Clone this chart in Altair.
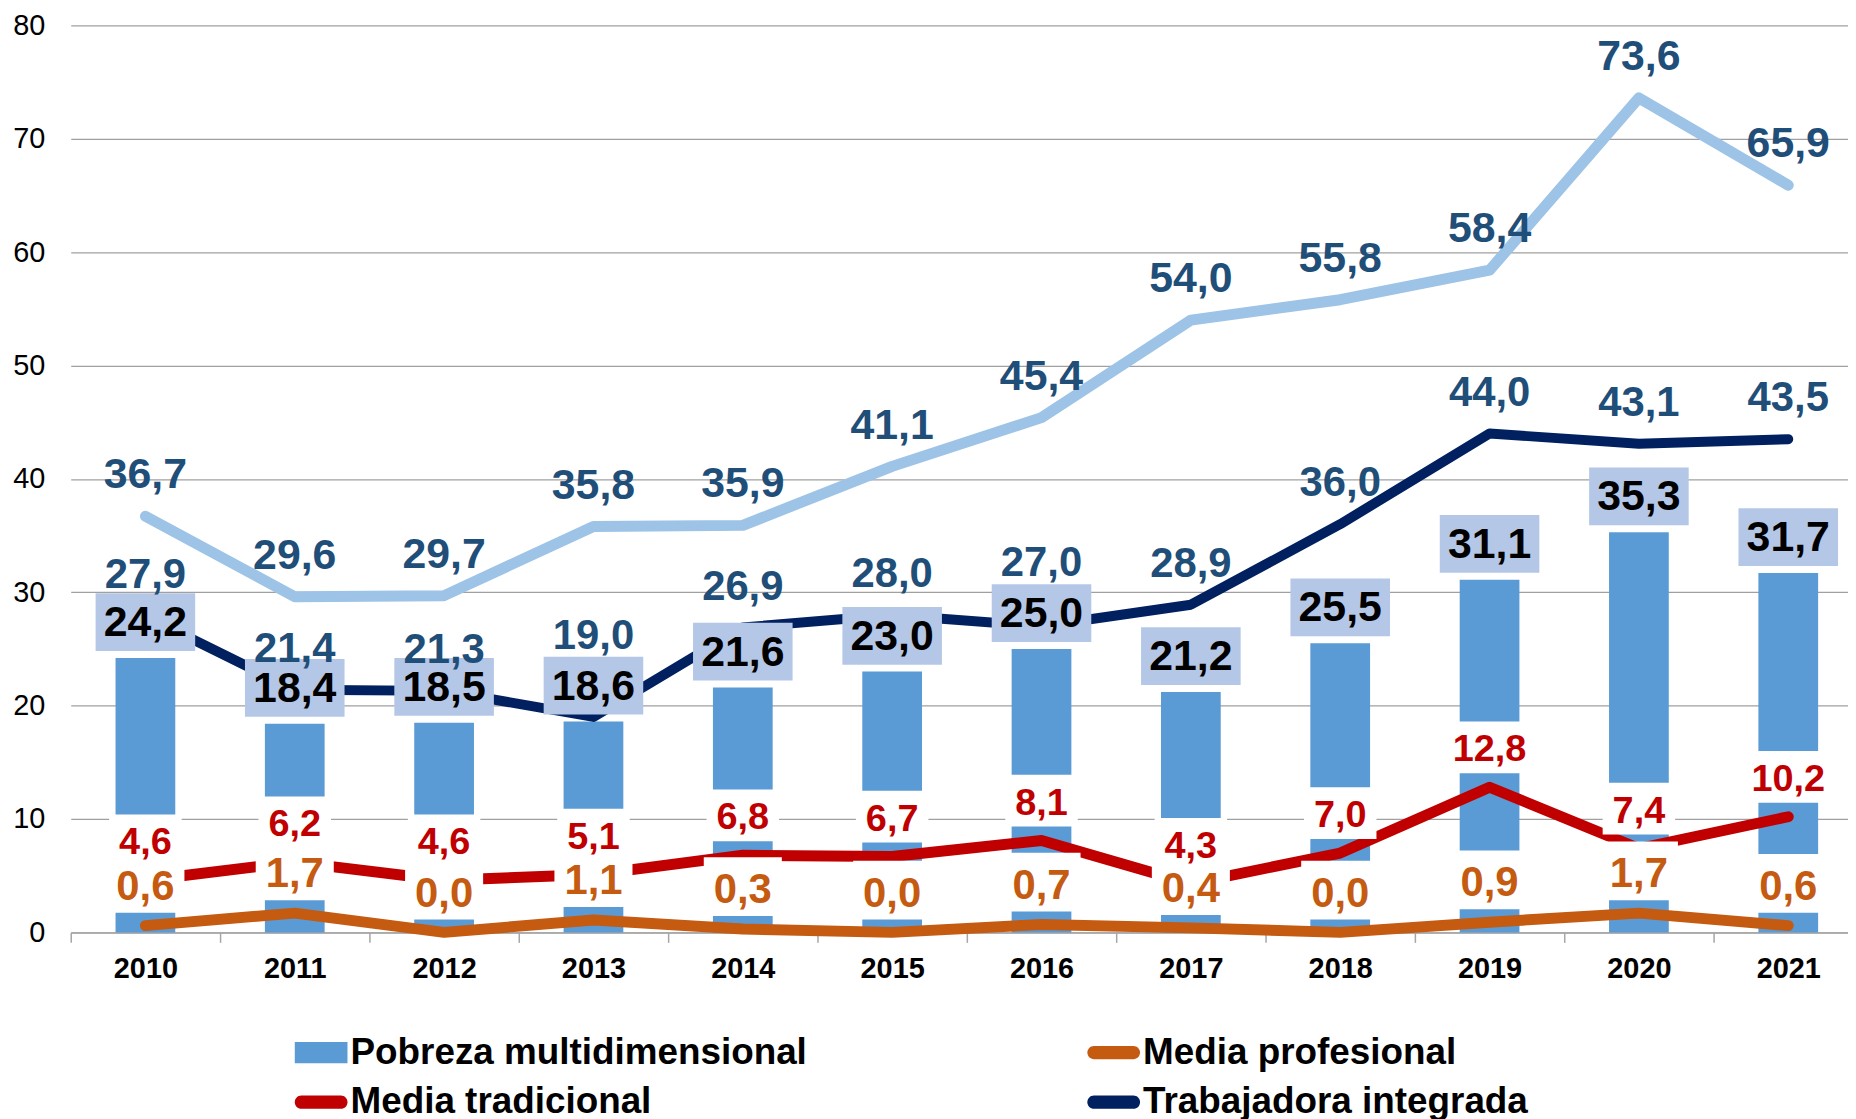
import altair as alt
import pandas as pd

years = ["2010", "2011", "2012", "2013", "2014", "2015", "2016", "2017", "2018", "2019", "2020", "2021"]
pobreza = [24.2, 18.4, 18.5, 18.6, 21.6, 23.0, 25.0, 21.2, 25.5, 31.1, 35.3, 31.7]
serie_clara = [36.7, 29.6, 29.7, 35.8, 35.9, 41.1, 45.4, 54.0, 55.8, 58.4, 73.6, 65.9]
integrada = [27.9, 21.4, 21.3, 19.0, 26.9, 28.0, 27.0, 28.9, 36.0, 44.0, 43.1, 43.5]
tradicional = [4.6, 6.2, 4.6, 5.1, 6.8, 6.7, 8.1, 4.3, 7.0, 12.8, 7.4, 10.2]
profesional = [0.6, 1.7, 0.0, 1.1, 0.3, 0.0, 0.7, 0.4, 0.0, 0.9, 1.7, 0.6]

names = ["Pobreza multidimensional", "Media tradicional", "Media profesional", "Trabajadora integrada"]
colors = ["#5b9bd5", "#c00000", "#c55a11", "#002060"]

FONT = "Liberation Sans"
H = 911.0
W = 1785
PX = H / 80.0  # pixels per unit


def fmt(v):
    return f"{v:.1f}".replace(".", ",")


def frame(vals):
    return pd.DataFrame({"year": years, "v": vals, "lbl": [fmt(v) for v in vals]})


d_bar = frame(pobreza)
d_light = frame(serie_clara)
d_nav = frame(integrada)
d_nav["bar"] = pobreza
d_red = frame(tradicional)
d_org = frame(profesional)

d_leg = pd.concat([
    pd.DataFrame({"year": years, "v": vals, "serie": n})
    for n, vals in zip(names, [pobreza, tradicional, profesional, integrada])
])

x_enc = alt.X(
    "year:N",
    sort=years,
    scale=alt.Scale(paddingInner=0, paddingOuter=0, range=[0, 1800]),
    axis=alt.Axis(
        title=None, labelFont=FONT, labelFontSize=29, labelFontWeight="bold",
        labelColor="black", labelPadding=12, tickBand="extent", ticks=True,
        tickSize=10, tickColor="#a6a6a6", domainColor="#a6a6a6", domainWidth=1.5,
        tickWidth=1.5, grid=False, labelAngle=0,
    ),
)
y_scale = alt.Scale(domain=[0, 80], nice=False, zero=True)
y_axis = alt.Axis(
    title=None, values=list(range(0, 81, 10)), labelFont=FONT, labelFontSize=29,
    labelColor="black", labelPadding=26, ticks=False, tickSize=0, domain=False,
    grid=True, gridColor="#a0a0a0", gridWidth=1.4,
)
y_main = alt.Y("v:Q", scale=y_scale, axis=y_axis, title=None)

bars = alt.Chart(d_bar).mark_bar(size=60, color="#5b9bd5").encode(x=x_enc, y=y_main)


def line(df, color, width):
    return alt.Chart(df).mark_line(
        color=color, strokeWidth=width, strokeCap="round", strokeJoin="round"
    ).encode(x=x_enc, y=y_main)


l_light = line(d_light, "#9dc3e6", 11)
l_nav = line(d_nav, "#002060", 10)
l_red = line(d_red, "#c00000", 11)
l_org = line(d_org, "#c55a11", 11)

bar_boxes = alt.Chart(d_bar).mark_bar(
    size=100, color="#b4c7e7", yOffset=-7, y2Offset=-65
).encode(x=x_enc, y=y_main, y2="v:Q")


def white_boxes(df, fs, off_bottom, off_top):
    return alt.Chart(df).transform_calculate(
        bw=f"(length(datum.lbl) - 1) * 0.556 * {fs} + 0.278 * {fs} + 20"
    ).mark_bar(color="white", yOffset=off_bottom, y2Offset=off_top).encode(
        x=x_enc, y=y_main, y2="v:Q", size=alt.Size("bw:Q", scale=None, legend=None)
    )


red_boxes = white_boxes(d_red, 38, -14, -66)
org_boxes = white_boxes(d_org, 42, -13, -72)


def labels(df, color, fs, dy):
    return alt.Chart(df).mark_text(
        font=FONT, fontSize=fs, fontWeight="bold", color=color, dy=dy, baseline="alphabetic"
    ).encode(x=x_enc, y=y_main, text="lbl:N")


t_light = labels(d_light, "#1f4e79", 43, -28)

# navy labels: 28px above their point unless that would hide them behind the
# bar's label box, in which case they move just above that box
nav_gap = 28 / PX
box_top = 73 / PX
t_nav = alt.Chart(d_nav).transform_calculate(
    lo=f"datum.v + {nav_gap}",
    hi=f"datum.v + {nav_gap} + {30 / PX}",
    btop=f"datum.bar + {65 / PX}",
    bbot=f"datum.bar + {7 / PX}",
).transform_calculate(
    ov="min(datum.hi, datum.btop) - max(datum.lo, datum.bbot)",
).transform_calculate(
    ly=f"datum.ov > 0.8 ? max(datum.lo, datum.bar + {box_top}) : datum.lo",
).mark_text(
    font=FONT, fontSize=42, fontWeight="bold", color="#1f4e79", baseline="alphabetic"
).encode(x=x_enc, y=alt.Y("ly:Q", scale=y_scale, axis=y_axis, title=None), text="lbl:N")

t_bar = labels(d_bar, "black", 43, -22)
t_red = labels(d_red, "#c00000", 38, -26)
t_org = labels(d_org, "#c55a11", 42, -26)

RECT = "M-1,-0.4H1V0.4H-1Z"
STAD = "M-0.75,-0.25H0.75A0.25,0.25 0 0 1 0.75,0.25H-0.75A0.25,0.25 0 0 1 -0.75,-0.25Z"

leg = alt.Legend(
    title=None, orient="none", legendX=225, legendY=1005, columns=2,
    columnPadding=281, rowPadding=5, labelFont=FONT, labelFontSize=37,
    labelFontWeight="bold", labelColor="black", symbolSize=2800,
    symbolOpacity=1, symbolStrokeWidth=0, labelOffset=3, padding=0,
    labelLimit=1000,
)

legend_pts = alt.Chart(d_leg).mark_point(filled=True, opacity=0).encode(
    x=x_enc,
    y=y_main,
    color=alt.Color("serie:N", scale=alt.Scale(domain=names, range=colors), legend=leg),
    shape=alt.Shape("serie:N", scale=alt.Scale(domain=names, range=[RECT, STAD, STAD, STAD]), legend=leg),
)

chart = alt.layer(
    bars, l_light, l_nav, bar_boxes, l_red, l_org, red_boxes, org_boxes,
    t_light, t_nav, t_bar, t_red, t_org, legend_pts,
).properties(
    width=W, height=H,
    autosize=alt.AutoSizeParams(type="none"),
    padding={"left": 63, "top": 15, "right": 0, "bottom": 185},
    background="white",
).configure_view(stroke=None)

chart.save("out.html", embed_options={"renderer": "svg", "actions": False})
